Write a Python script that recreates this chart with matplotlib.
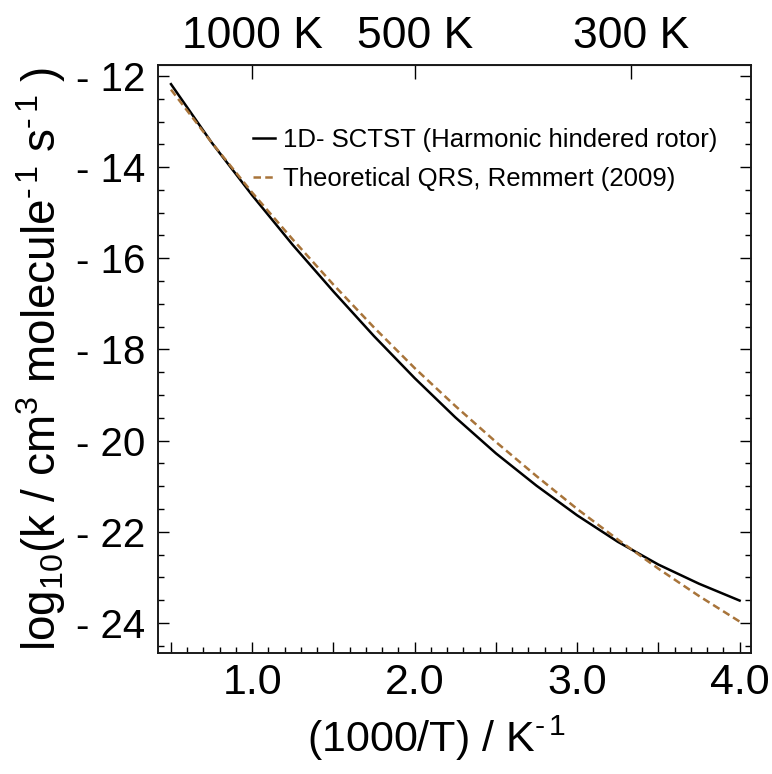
import numpy as np
import matplotlib
matplotlib.use("Agg")
import matplotlib.pyplot as plt
from matplotlib.ticker import MultipleLocator, FuncFormatter

plt.rcParams['font.family'] = ['Liberation Sans', 'DejaVu Sans']
plt.rcParams['mathtext.fontset'] = 'custom'
plt.rcParams['mathtext.rm'] = 'Liberation Sans'
plt.rcParams['mathtext.it'] = 'Liberation Sans:italic'

# 1000/T grid (K^-1)
inv_T = [0.5, 0.75, 1.0, 1.25, 1.5, 1.75, 2.0, 2.25, 2.5, 2.75, 3.0, 3.25, 3.5, 3.75, 4.0]

# log10 k, 1D-SCTST (harmonic hindered rotor)
sctst = [-12.18, -13.46, -14.62, -15.71, -16.73, -17.71, -18.63, -19.49, -20.28,
         -20.99, -21.64, -22.22, -22.72, -23.14, -23.51]

# log10 k, theoretical QRS, Remmert (2009)
qrs = [-12.30, -13.46, -14.56, -15.59, -16.58, -17.52, -18.41, -19.24, -20.03,
       -20.78, -21.50, -22.17, -22.81, -23.41, -23.97]

top_pos = [1.0, 2.0, 1000 / 300]
top_lab = ['1000 K', '500 K', '300 K']

fig = plt.figure(figsize=(7.72, 7.74), dpi=100)
ax = fig.add_axes([158 / 772, 1 - 653 / 774, (751 - 158) / 772, (653 - 65) / 774])

ax.plot(inv_T, sctst, color='black', lw=1.8, label='1D- SCTST (Harmonic hindered rotor)')
ax.plot(inv_T, qrs, color='#A8743A', lw=1.8, dashes=(3.0, 1.7),
        label='Theoretical QRS, Remmert (2009)')

ax.set_xlim(0.42, 4.07)
ax.set_ylim(-24.66, -11.76)

ax.xaxis.set_major_locator(MultipleLocator(0.5))
ax.xaxis.set_minor_locator(MultipleLocator(0.1))
ax.xaxis.set_major_formatter(FuncFormatter(lambda v, p: f"{v:.1f}" if abs(v - round(v)) < 1e-6 else ""))
ax.yaxis.set_major_locator(MultipleLocator(2))
ax.yaxis.set_minor_locator(MultipleLocator(0.5))
ax.yaxis.set_major_formatter(FuncFormatter(lambda v, p: f"- {abs(int(round(v)))}"))

ax.tick_params(which='both', direction='in', top=False, right=True, width=1.0)
ax.tick_params(which='major', length=8)
ax.tick_params(which='minor', length=4.5)
ax.tick_params(axis='x', labelsize=31, pad=7)
ax.tick_params(axis='y', labelsize=29, pad=9)
for s in ax.spines.values():
    s.set_linewidth(1.4)
    s.set_color('#1a1a1a')

top = ax.secondary_xaxis('top')
top.set_xticks(top_pos)
top.set_xticklabels(top_lab)
top.tick_params(direction='in', length=10, width=1.0, labelsize=32, pad=6)

ax.set_xlabel("(1000/T) / K$^{\u2010\\,1}$", fontsize=31, labelpad=8)
ax.xaxis.label.set_x(0.47)
ax.set_ylabel("log$_{10}$(k / cm$^{3}$ molecule$^{\u2010\\,1}$ s$^{\u2010\\,1}$ )",
              fontsize=33, labelpad=6)

ax.legend(loc='upper left', bbox_to_anchor=(253 / 772, 1 - 128 / 774),
          bbox_transform=fig.transFigure, frameon=False, fontsize=18.5,
          handlelength=0.85, handletextpad=0.3, labelspacing=0.6, borderpad=0,
          borderaxespad=0)

fig.savefig('out.png', dpi=100)
